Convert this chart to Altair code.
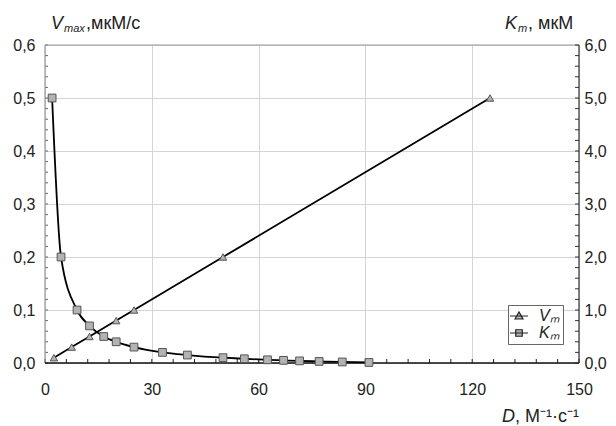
import altair as alt
import pandas as pd

# ---- data ----
vm_D = [2.5, 7.5, 12.5, 20, 25, 50, 125]
vm_V = [0.01, 0.03, 0.05, 0.08, 0.10, 0.20, 0.50]

km_D = [2, 4.5, 9, 12.5, 16.5, 20, 25, 33, 40, 50, 56, 62.5, 67, 71.5, 77, 83.5, 91]
km_K = [5.0, 2.0, 1.0, 0.7, 0.5, 0.4, 0.3, 0.2, 0.15, 0.1, 0.08, 0.06, 0.05, 0.04, 0.03, 0.02, 0.01]

x_grid = [0, 30, 60, 90, 120, 150]
x_minor = list(range(0, 151, 6))
yl_ticks = [round(i * 0.02, 2) for i in range(31)]
yr_ticks = [round(i * 0.2, 1) for i in range(31)]
legend_names = ["Vₘ", "Kₘ"]

W, H = 534, 318
FONT = "Liberation Sans"
GRID = "#d4d4d4"

vm = pd.DataFrame({"D": vm_D, "V": vm_V})
km = pd.DataFrame({"D": km_D, "K": km_K})

xs = alt.Scale(domain=[0, 150], nice=False, zero=False)
x_axis = alt.Axis(values=x_grid, title=None, grid=True, gridColor=GRID, domain=False,
                  ticks=False, labelPadding=18, labelFontSize=16, labelFont=FONT,
                  labelColor="#222", labelFlush=False)
X = alt.X("D:Q", scale=xs, axis=x_axis)

yl_scale = alt.Scale(domain=[0, 0.6], nice=False)
yl_axis = alt.Axis(values=[0, 0.1, 0.2, 0.3, 0.4, 0.5, 0.6], title=None, grid=True,
                   gridColor=GRID, domain=False, ticks=False, labelPadding=10,
                   labelFontSize=16, labelFont=FONT, labelColor="#222",
                   labelExpr="replace(format(datum.value, '.1f'), '.', ',')")
yr_scale = alt.Scale(domain=[0, 6], nice=False)
yr_axis = alt.Axis(orient="right", values=[0, 1, 2, 3, 4, 5, 6], title=None, grid=False,
                   domain=False, ticks=False, labelPadding=5, labelFontSize=16,
                   labelFont=FONT, labelColor="#222",
                   labelExpr="replace(format(datum.value, '.1f'), '.', ',')")

MFILL = "#b3b3b3"
MSTROKE = "#555555"

vm_line = alt.Chart(vm).mark_line(color="black", strokeWidth=1.8).encode(
    x=X, y=alt.Y("V:Q", scale=yl_scale, axis=yl_axis))
vm_pts = alt.Chart(vm).mark_point(shape="triangle-up", filled=True, fill=MFILL,
                                  stroke=MSTROKE, strokeWidth=1, size=55, opacity=1).encode(
    x=X, y=alt.Y("V:Q", scale=yl_scale, axis=yl_axis))

tri_path = "M-1.8,0H1.8M-0.8,0.6L0,-0.8L0.8,0.6Z"
sq_path = "M-1.8,0H1.8M-0.65,-0.65H0.65V0.65H-0.65Z"
leg_df = pd.DataFrame({"series": legend_names, "D": [-100, -100], "V": [0, 0]})
legend_layer = alt.Chart(leg_df).mark_point(filled=True, fill=MFILL, stroke="#222",
                                            strokeWidth=1.2, size=100, opacity=1,
                                            clip=True).encode(
    x=X, y=alt.Y("V:Q", scale=yl_scale, axis=yl_axis),
    shape=alt.Shape("series:N", scale=alt.Scale(domain=legend_names, range=[tri_path, sq_path]),
                    legend=alt.Legend(title=None, orient="none", legendX=463, legendY=260,
                                      strokeColor="#666", fillColor="white", padding=3,
                                      labelFont=FONT, labelFontSize=16, labelFontStyle="italic",
                                      labelOffset=12, symbolSize=100, rowPadding=1,
                                      symbolStrokeWidth=1.2, labelColor="#222")))

# inward ticks
xt = alt.Chart(pd.DataFrame({"D": x_minor})).mark_rule(color="#222", strokeWidth=1).encode(
    x=X, y=alt.value(H), y2=alt.value(H - 4))
ylt = alt.Chart(pd.DataFrame({"V": yl_ticks})).mark_rule(color="#666", strokeWidth=1).encode(
    y=alt.Y("V:Q", scale=yl_scale, axis=yl_axis), x=alt.value(0), x2=alt.value(3))

# frame
frame_top = alt.Chart(pd.DataFrame({"a": [0]})).mark_rule(color="#999", strokeWidth=1.2).encode(
    x=alt.value(0), x2=alt.value(W), y=alt.value(0))
frame_left = alt.Chart(pd.DataFrame({"a": [0]})).mark_rule(color="#999", strokeWidth=1.2).encode(
    x=alt.value(0), y=alt.value(0), y2=alt.value(H))
frame_bottom = alt.Chart(pd.DataFrame({"a": [0]})).mark_rule(color="#111", strokeWidth=1.4).encode(
    x=alt.value(0), x2=alt.value(W), y=alt.value(H))
frame_right = alt.Chart(pd.DataFrame({"a": [0]})).mark_rule(color="#333", strokeWidth=1.2).encode(
    x=alt.value(W), y=alt.value(0), y2=alt.value(H))


def txt(s, x, y, size=18, style="normal", align="left"):
    return alt.Chart(pd.DataFrame({"a": [0]})).mark_text(
        text=s, font=FONT, fontSize=size, fontStyle=style, align=align,
        baseline="alphabetic", color="#222").encode(x=alt.value(x), y=alt.value(y))


titles = [
    txt("V", 6, -16, style="italic"),
    txt("max", 19, -13, size=11, style="italic"),
    txt(",мкМ/с", 41, -16),
    txt("K", 460, -16, style="italic"),
    txt("m", 473, -13, size=11, style="italic"),
    txt(", мкМ", 483, -16),
    txt("D", 457, 377, style="italic"),
    txt(", М⁻¹·с⁻¹", 470, 377),
]

left = alt.layer(vm_line, ylt, xt, vm_pts, legend_layer,
                 frame_top, frame_left, frame_bottom, frame_right, *titles)

km_line = alt.Chart(km).mark_line(color="black", strokeWidth=1.8, interpolate="monotone").encode(
    x=X, y=alt.Y("K:Q", scale=yr_scale, axis=yr_axis))
km_pts = alt.Chart(km).mark_point(shape="square", filled=True, fill=MFILL, stroke=MSTROKE,
                                  strokeWidth=1, size=60, opacity=1).encode(
    x=X, y=alt.Y("K:Q", scale=yr_scale, axis=yr_axis))
yrt = alt.Chart(pd.DataFrame({"K": yr_ticks})).mark_rule(color="#333", strokeWidth=1).encode(
    y=alt.Y("K:Q", scale=yr_scale, axis=yr_axis), x=alt.value(W), x2=alt.value(W - 4))

right = alt.layer(km_line, yrt, km_pts)

chart = alt.layer(left, right).resolve_scale(y="independent").properties(
    width=W, height=H,
    padding={"left": 45, "top": 45, "right": 37, "bottom": 63},
    autosize=alt.AutoSizeParams(type="none"),
    background="white",
).configure_view(stroke=None)

chart.save("out.html", embed_options={"renderer": "svg", "actions": False})
